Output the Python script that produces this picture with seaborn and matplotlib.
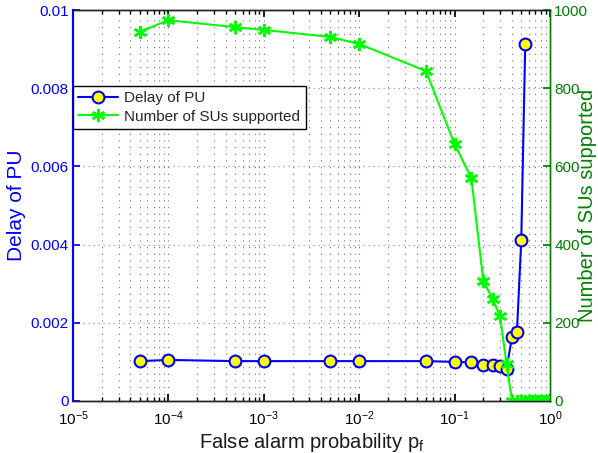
import numpy as np
import pandas as pd
import matplotlib
matplotlib.use("Agg")
import matplotlib.pyplot as plt
import seaborn as sns
from matplotlib.ticker import LogLocator, NullFormatter

sns.set_theme(style="white")
plt.rcParams['font.family'] = ['Liberation Sans', 'DejaVu Sans']
plt.rcParams['mathtext.fontset'] = 'custom'
plt.rcParams['mathtext.rm'] = 'Liberation Sans'
plt.rcParams['mathtext.it'] = 'Liberation Sans'

# Data
pf_delay = [5e-5, 1e-4, 5e-4, 1e-3, 5e-3, 1e-2, 5e-2, 0.1, 0.15, 0.2, 0.25, 0.3, 0.35, 0.4, 0.45, 0.5, 0.55]
delay_pu = [0.00102, 0.00105, 0.00102, 0.00102, 0.00102, 0.00102, 0.00102, 0.00100, 0.00099, 0.00093,
            0.00092, 0.00090, 0.00082, 0.00164, 0.00176, 0.00412, 0.00913]
pf_su = [5e-5, 1e-4, 5e-4, 1e-3, 5e-3, 1e-2, 5e-2, 0.1, 0.15, 0.2, 0.25, 0.3, 0.35,
         0.4, 0.45, 0.5, 0.55, 0.6, 0.65, 0.7, 0.75, 0.8, 0.85, 0.9, 0.95]
num_su = [944, 974, 956, 949, 931, 913, 844, 657, 570, 307, 261, 217, 95,
          0, 0, 0, 0, 0, 0, 0, 0, 0, 0, 0, 0]
delay_ticks = [0, 0.002, 0.004, 0.006, 0.008, 0.01]
delay_tick_labels = ['0', '0.002', '0.004', '0.006', '0.008', '0.01']
su_ticks = [0, 200, 400, 600, 800, 1000]
x_ticks = [1e-5, 1e-4, 1e-3, 1e-2, 1e-1, 1]
x_tick_labels = [r'$10^{-5}$', r'$10^{-4}$', r'$10^{-3}$', r'$10^{-2}$', r'$10^{-1}$', r'$10^{0}$']

df1 = pd.DataFrame({"pf": pf_delay, "delay": delay_pu})
df2 = pd.DataFrame({"pf": pf_su, "n": num_su})

BLUE = (0, 0, 1)
GREEN = (0, 1, 0)
DGREEN = (0, 0.5, 0)

fig = plt.figure(figsize=(5.98, 4.53), dpi=100)
ax = fig.add_axes([73/598, 1 - 401/453, 477/598, 391/453])
ax2 = ax.twinx()

sns.lineplot(data=df1, x="pf", y="delay", ax=ax, sort=False, estimator=None,
             color=BLUE, linewidth=1.5, marker='o', markersize=8.5,
             markerfacecolor=(1, 1, 0), markeredgecolor=BLUE, markeredgewidth=1.5,
             label="Delay of PU", legend=False)
sns.lineplot(data=df2, x="pf", y="n", ax=ax2, sort=False, estimator=None,
             color=GREEN, linewidth=1.5, marker=(6, 2, 0), markersize=9.5,
             markeredgecolor=GREEN, markeredgewidth=1.8,
             label="Number of SUs supported", legend=False)

ax.set_xscale('log')
ax.set_xlim(1e-5, 1)
ax.set_ylim(0, 0.01)
ax2.set_ylim(0, 1000)
ax.set_yticks(delay_ticks)
ax.set_yticklabels(delay_tick_labels)
ax2.set_yticks(su_ticks)
ax.set_xticks(x_ticks)
ax.set_xticklabels(x_tick_labels)
ax.xaxis.set_minor_locator(LogLocator(base=10, subs=np.arange(2, 10), numticks=20))
ax.xaxis.set_minor_formatter(NullFormatter())

# grids
ax.grid(True, which='both', axis='x', color=(0.45, 0.45, 0.45), linestyle=(0, (1, 5)), linewidth=0.8)
ax.grid(True, which='major', axis='y', color=(0.55, 0.55, 1.0), linestyle=(0, (1, 3)), linewidth=0.9)

for s in ['top', 'bottom']:
    ax.spines[s].set_color('black')
ax.spines['left'].set_color(BLUE)
ax2.spines['left'].set_color(BLUE)
ax2.spines['right'].set_color(DGREEN)
ax.spines['right'].set_color(DGREEN)
for a in (ax, ax2):
    for s in a.spines.values():
        s.set_linewidth(1.0)
ax.spines['left'].set_linewidth(1.5)
ax2.spines['left'].set_linewidth(1.5)

ax.tick_params(axis='x', which='both', direction='in', top=True, bottom=True,
               labelsize=11, colors='black', pad=6)
ax.tick_params(axis='x', which='major', length=5)
ax.tick_params(axis='x', which='minor', length=3)
ax.tick_params(axis='y', direction='in', left=True, right=False, length=5,
               colors=BLUE, labelsize=11, pad=3)
ax2.tick_params(axis='y', direction='in', right=True, length=5,
                colors=DGREEN, labelsize=11, pad=3)

ax.set_xlabel(r'False alarm probability p$_\mathregular{f}$', fontsize=14.5, color=(0.1, 0.1, 0.1), labelpad=2)
ax.set_ylabel('Delay of PU', fontsize=15, color=BLUE)
ax2.set_ylabel('Number of SUs supported', fontsize=14.5, color=DGREEN)
ax.yaxis.set_label_coords(-0.098, 0.5)
ax2.yaxis.set_label_coords(1.058, 0.5)

h1, l1 = ax.get_legend_handles_labels()
h2, l2 = ax2.get_legend_handles_labels()
leg = ax2.legend(h1 + h2, l1 + l2, loc='upper left', bbox_to_anchor=(0.0, 0.806),
                 fontsize=11, frameon=True, fancybox=False, edgecolor='black',
                 framealpha=1, borderpad=0.35, labelspacing=0.3, handlelength=2.6,
                 handletextpad=0.4, borderaxespad=0)
leg.get_frame().set_linewidth(1.0)

fig.savefig("out.png", dpi=100)
